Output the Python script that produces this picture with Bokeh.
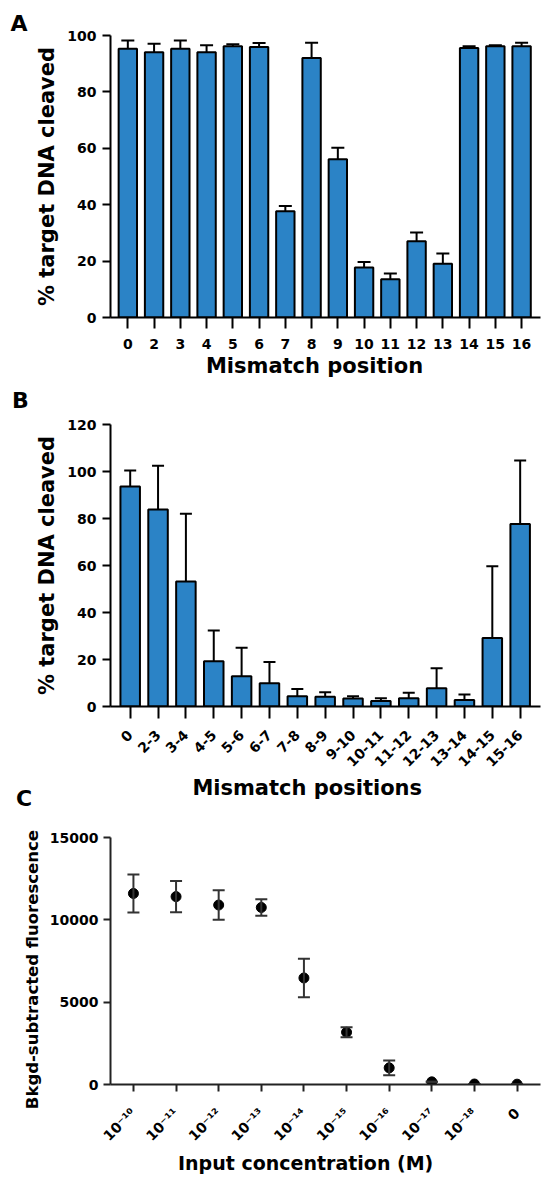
from math import pi
from bokeh.plotting import figure
from bokeh.models import Range1d, FixedTicker, Whisker, ColumnDataSource, TeeHead, Title, Div
from bokeh.layouts import column
from bokeh.embed import file_html
from bokeh.resources import INLINE

FONT = "DejaVu Sans"
BAR = "#2b83c6"
NB = "\u00a0"

# ---------------- data ----------------
a_positions = ["0", "2", "3", "4", "5", "6", "7", "8", "9", "10", "11", "12", "13", "14", "15", "16"]
a_values = [95.3, 94.1, 95.3, 94.1, 96.2, 95.9, 37.7, 92.0, 56.1, 17.7, 13.6, 27.0, 19.1, 95.6, 96.2, 96.2]
a_errors = [2.9, 3.0, 2.9, 2.4, 0.7, 1.4, 1.8, 5.4, 4.1, 2.0, 2.0, 3.1, 3.6, 0.6, 0.3, 1.2]
a_yticks = [0, 20, 40, 60, 80, 100]

b_positions = ["0", "2-3", "3-4", "4-5", "5-6", "6-7", "7-8", "8-9", "9-10",
               "10-11", "11-12", "12-13", "13-14", "14-15", "15-16"]
b_values = [93.6, 83.8, 53.2, 19.3, 12.9, 9.9, 4.4, 4.1, 3.4, 2.3, 3.5, 7.8, 2.8, 29.2, 77.7]
b_errors = [6.8, 18.6, 28.8, 13.0, 12.1, 9.0, 3.1, 2.0, 1.0, 1.2, 2.3, 8.5, 2.3, 30.5, 27.0]
b_yticks = [0, 20, 40, 60, 80, 100, 120]

c_concentrations = ["10\u207b\u00b9\u2070", "10\u207b\u00b9\u00b9", "10\u207b\u00b9\u00b2", "10\u207b\u00b9\u00b3",
                    "10\u207b\u00b9\u2074", "10\u207b\u00b9\u2075", "10\u207b\u00b9\u2076", "10\u207b\u00b9\u2077",
                    "10\u207b\u00b9\u2078", "0"]
c_values = [11600, 11410, 10900, 10750, 6470, 3175, 1010, 160, 30, 20]
c_errors = [1150, 950, 900, 500, 1170, 300, 450, 0, 0, 0]
c_yticks = [0, 5000, 10000, 15000]


def make_fig(width, height, left, right, top, bottom, xr, yr):
    p = figure(width=width, height=height, x_range=Range1d(*xr), y_range=Range1d(*yr),
               output_backend="svg", toolbar_location=None,
               min_border_left=left, min_border_right=right,
               min_border_top=top, min_border_bottom=bottom)
    p.outline_line_color = None
    p.grid.visible = False
    p.background_fill_color = "white"
    p.border_fill_color = "white"
    return p


def style_axes(p, xlabels, yticks, xlabel, ylabel, xtick_out, ytick_out, xlab_size, ylab_size,
               xtitle_size, ytitle_size, axis_color="black", orientation="horizontal",
               x_label_standoff=8, y_label_standoff=6, x_title_standoff=6, y_title_standoff=6):
    for ax in (p.xaxis[0], p.yaxis[0]):
        ax.axis_line_width = 2
        ax.axis_line_color = axis_color
        ax.major_tick_line_width = 2
        ax.major_tick_line_color = axis_color
        ax.major_tick_in = 0
        ax.minor_tick_line_color = None
        ax.major_label_text_font = FONT
        ax.major_label_text_font_style = "bold"
        ax.major_label_text_color = "black"
        ax.axis_label_text_font = FONT
        ax.axis_label_text_font_style = "bold"
        ax.axis_label_text_color = "black"
    xa, ya = p.xaxis[0], p.yaxis[0]
    xa.ticker = FixedTicker(ticks=list(range(len(xlabels))))
    xa.major_label_overrides = {i: lab for i, lab in enumerate(xlabels)}
    xa.major_tick_out = xtick_out
    xa.major_label_text_font_size = xlab_size
    xa.major_label_standoff = x_label_standoff
    xa.major_label_orientation = orientation
    xa.axis_label = xlabel
    xa.axis_label_text_font_size = xtitle_size
    xa.axis_label_standoff = x_title_standoff
    ya.ticker = FixedTicker(ticks=yticks)
    ya.major_tick_out = ytick_out
    ya.major_label_text_font_size = ylab_size
    ya.major_label_standoff = y_label_standoff
    ya.axis_label = ylabel
    ya.axis_label_text_font_size = ytitle_size
    ya.axis_label_standoff = y_title_standoff


def bar_panel(p, labels, values, errors, width, cap):
    xs = list(range(len(labels)))
    src = ColumnDataSource(dict(x=xs, top=values, upper=[v + e for v, e in zip(values, errors)]))
    p.vbar(x="x", top="top", width=width, bottom=0, source=src, fill_color=BAR,
           line_color="black", line_width=2)
    w = Whisker(base="x", lower="top", upper="upper", source=src, line_width=2, line_color="black",
                upper_head=TeeHead(size=cap, line_width=2, line_color="black"), lower_head=None,
                level="glyph")
    p.add_layout(w)


LETTER_STYLE = {"position": "relative", "z-index": "10", "font-family": FONT, "font-weight": "bold",
                "font-size": "22px", "line-height": "normal", "color": "black", "overflow": "visible"}

# ---------------- Panel A ----------------
pA = make_fig(550, 390, 106, 10, 35, 73, (-0.66, 15.72), (0, 100))
bar_panel(pA, a_positions, a_values, a_errors, 0.7, 13)
style_axes(pA, a_positions, a_yticks, "Mismatch position" + NB * 3, "% target DNA cleaved",
           11, 8, "14px", "14px", "21px", "21px", x_label_standoff=10, y_label_standoff=6,
           x_title_standoff=2, y_title_standoff=5)
pA.add_layout(Title(text="A", align="left", offset=-100, standoff=0, text_font=FONT,
                    text_font_style="bold", text_font_size="22px", text_color="black",
                    vertical_align="bottom"), "above")

divB = Div(text="B", width=30, height=24, margin=(-2, 0, -22, 12), styles=LETTER_STYLE)

# ---------------- Panel B ----------------
pB = make_fig(550, 420, 110, 3, 34, 104, (-0.707, 14.73), (0, 120))
bar_panel(pB, b_positions, b_values, b_errors, 0.7, 12)
style_axes(pB, b_positions, b_yticks, "Mismatch positions" + NB * 5, "% target DNA cleaved",
           12, 8, "14px", "14px", "21px", "21px", orientation=pi / 4,
           x_label_standoff=14, y_label_standoff=6, x_title_standoff=2, y_title_standoff=5)

divC = Div(text="C", width=30, height=24, margin=(-24, 0, 0, 16), styles=LETTER_STYLE)

# ---------------- Panel C ----------------
pC = make_fig(550, 367, 110, 3, 27, 91, (-0.538, 9.55), (0, 15000))
xs = list(range(len(c_concentrations)))
srcC = ColumnDataSource(dict(x=xs, y=c_values,
                             lo=[v - e for v, e in zip(c_values, c_errors)],
                             hi=[v + e for v, e in zip(c_values, c_errors)]))
pC.add_layout(Whisker(base="x", lower="lo", upper="hi", source=srcC, line_width=2, line_color="#333333",
                      upper_head=TeeHead(size=12, line_width=2, line_color="#333333"),
                      lower_head=TeeHead(size=12, line_width=2, line_color="#333333"), level="glyph"))
pC.scatter(x="x", y="y", source=srcC, size=10, marker="circle", fill_color="black", line_color="black")
style_axes(pC, c_concentrations, c_yticks, "Input concentration (M)" + NB * 6,
           "Bkgd-subtracted fluorescence" + NB * 3,
           7, 7, "14px", "14px", "19px", "16.5px", axis_color="#222222", orientation=pi / 4,
           x_label_standoff=19, y_label_standoff=5, x_title_standoff=0, y_title_standoff=5)

layout = column(pA, divB, pB, divC, pC)
open("out.html", "w").write(file_html(layout, INLINE))
